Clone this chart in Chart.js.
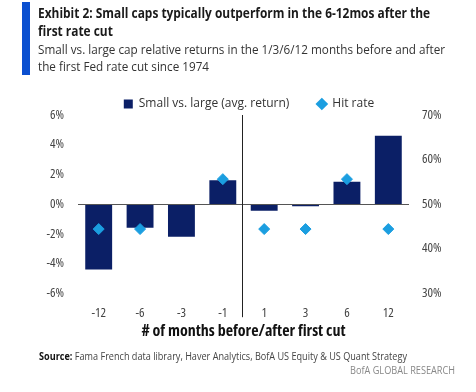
<!DOCTYPE html>
<html>
<head>
<meta charset="utf-8">
<script src="https://cdn.jsdelivr.net/npm/chart.js@4/dist/chart.umd.min.js"></script>
<style>
  html, body { margin: 0; padding: 0; background: #fff; }
  body { width: 476px; height: 392px; position: relative; overflow: hidden; font-family: 'Open Sans', sans-serif; }
  #bar { position: absolute; left: 22px; top: 2px; width: 8px; height: 73px; background: #0a4fd0; }
  .t { position: absolute; left: 38px; white-space: nowrap; transform-origin: 0 0; }
  .t span { display: inline-block; }
  #title { top: 4px; font-weight: bold; font-size: 14px; line-height: 18px; color: #1a1a1a; }
  #sub { top: 41px; font-size: 13px; line-height: 17px; color: #333; }
  #source { top: 348px; left: 39px; font-size: 11px; color: #444; }
  #source b { color: #111; }
  #brand { top: 362px; left: 350px; font-size: 11px; color: #888; }
  #wrap { position: absolute; left: 0; top: 0; width: 476px; height: 392px; }
</style>
</head>
<body>
<div id="wrap"><canvas id="c" width="476" height="392"></canvas></div>
<div id="bar"></div>
<div id="title" class="t" data-w="392"><span>Exhibit 2: Small caps typically outperform in the 6-12mos after the</span><br><span>first rate cut</span></div>
<div id="sub" class="t" data-w="407"><span>Small vs. large cap relative returns in the 1/3/6/12 months before and after</span><br><span>the first Fed rate cut since 1974</span></div>
<div id="source" class="t" data-w="368"><span><b>Source:</b> Fama French data library, Haver Analytics, BofA US Equity &amp; US Quant Strategy</span></div>
<div id="brand" class="t" data-w="105"><span>BofA GLOBAL RESEARCH</span></div>
<script>
const categories = ['-12', '-6', '-3', '-1', '1', '3', '6', '12'];
const avgReturn = [-4.4, -1.6, -2.2, 1.6, -0.45, -0.15, 1.5, 4.6];
const hitRate = [44.4, 44.4, null, 55.6, 44.4, 44.4, 55.6, 44.4];
const leftTicks = [-6, -4, -2, 0, 2, 4, 6];
const rightTicks = [30, 40, 50, 60, 70];

// condense HTML text to the reference line widths
document.querySelectorAll('.t').forEach(el => {
  const first = el.querySelector('span');
  const w = first.getBoundingClientRect().width;
  const target = parseFloat(el.dataset.w);
  if (w > 0) el.style.transform = 'scaleX(' + (target / w) + ')';
});

const NAVY = '#0b1f66';
const CYAN = '#1b9ee0';
const FAM = "'Open Sans', sans-serif";
const REG = 'condensed';
const BOLD = 'bold condensed';

const linesPlugin = {
  id: 'lines',
  beforeUpdate(chart) {
    const lg = chart.legend;
    if (lg && !lg._patched) {
      const f = lg.fit.bind(lg);
      lg.fit = function () { f(); this.height -= 5; };
      lg._patched = true;
    }
  },
  afterDatasetsDraw(chart) {
    const ctx = chart.ctx;
    const a = chart.chartArea;
    const y0 = chart.scales.y.getPixelForValue(0);
    const xs = chart.scales.x;
    ctx.save();
    ctx.strokeStyle = '#555';
    ctx.lineWidth = 1;
    ctx.beginPath();
    ctx.moveTo(a.left, Math.round(y0) + 0.5);
    ctx.lineTo(a.right, Math.round(y0) + 0.5);
    ctx.stroke();
    const xm = (xs.getPixelForValue(3) + xs.getPixelForValue(4)) / 2;
    ctx.strokeStyle = '#222';
    ctx.beginPath();
    ctx.moveTo(Math.round(xm) - 1.5, a.top);
    ctx.lineTo(Math.round(xm) - 1.5, a.bottom + 24);
    ctx.stroke();
    ctx.restore();
  }
};

new Chart(document.getElementById('c'), {
  type: 'bar',
  data: {
    labels: categories,
    datasets: [
      {
        label: 'Small vs. large (avg. return)',
        data: avgReturn,
        backgroundColor: NAVY,
        yAxisID: 'y',
        barPercentage: 0.65,
        categoryPercentage: 1,
        order: 2
      },
      {
        type: 'line',
        label: 'Hit rate',
        data: hitRate,
        yAxisID: 'y2',
        showLine: false,
        pointStyle: 'rectRot',
        pointRadius: 5.5,
        pointBackgroundColor: CYAN,
        pointBorderColor: CYAN,
        backgroundColor: CYAN,
        borderColor: CYAN,
        order: 1
      }
    ]
  },
  options: {
    responsive: false,
    animation: false,
    layout: { padding: { top: 70, bottom: 47, left: 22, right: 0 } },
    plugins: {
      legend: {
        display: true,
        labels: {
          usePointStyle: true,
          boxWidth: 9,
          boxHeight: 9,
          padding: 28,
          color: '#333',
          font: { family: FAM, size: 12 },
          sort: (a, b) => a.datasetIndex - b.datasetIndex,
          generateLabels(chart) {
            const items = Chart.defaults.plugins.legend.labels.generateLabels(chart);
            items.forEach(it => { it.pointStyle = it.datasetIndex === 0 ? 'rect' : 'rectRot'; it.lineWidth = 0; });
            return items;
          }
        }
      },
      tooltip: { enabled: false }
    },
    scales: {
      x: {
        grid: { display: false, drawTicks: false },
        border: { display: false },
        ticks: { color: '#444', font: { family: FAM, size: 13, weight: REG }, padding: 12 },
        title: { display: true, text: '# of months before/after first cut', color: '#111', font: { family: FAM, size: 16, weight: BOLD }, padding: { top: -11, bottom: 4 } }
      },
      y: {
        position: 'left',
        min: -6, max: 6,
        afterBuildTicks(s) { s.ticks = leftTicks.map(v => ({ value: v })); },
        afterFit(s) { s.width = 56; },
        grid: { display: false, drawTicks: false },
        border: { display: false },
        ticks: { color: '#444', font: { family: FAM, size: 13, weight: REG }, padding: 14, callback: v => v + '%' }
      },
      y2: {
        position: 'right',
        min: 30, max: 70,
        afterBuildTicks(s) { s.ticks = rightTicks.map(v => ({ value: v })); },
        afterFit(s) { s.width = 67; },
        grid: { display: false, drawTicks: false },
        border: { display: false },
        ticks: { color: '#444', font: { family: FAM, size: 13, weight: REG }, padding: 13, callback: v => v + '%' }
      }
    }
  },
  plugins: [linesPlugin]
});
</script>
</body>
</html>
